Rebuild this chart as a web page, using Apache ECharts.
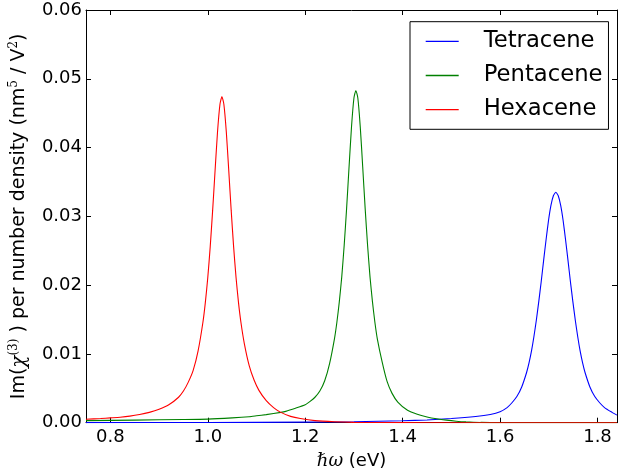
<!DOCTYPE html>
<html>
<head>
<meta charset="utf-8">
<script src="https://cdn.jsdelivr.net/npm/echarts@6/dist/echarts.min.js"></script>
<style>
html,body{margin:0;padding:0;background:#fff;}
#chart{width:618px;height:472px;}
</style>
</head>
<body>
<div id="chart"></div>
<script>
const seriesNames = ['Tetracene', 'Pentacene', 'Hexacene'];
const xTicks = [0.8, 1.0, 1.2, 1.4, 1.6, 1.8];

const tetraceneX = [0.75, 1.0, 1.2, 1.3, 1.4, 1.45, 1.5, 1.55, 1.58, 1.6, 1.6144, 1.6244, 1.6344, 1.6444, 1.6544, 1.6594, 1.6644, 1.6694, 1.6744, 1.6794, 1.6844, 1.6894, 1.6944, 1.6994, 1.7044, 1.7094, 1.7144, 1.7194, 1.7244, 1.7294, 1.7344, 1.7394, 1.7444, 1.7494, 1.7544, 1.7594, 1.7644, 1.7694, 1.7744, 1.7844, 1.7944, 1.8044, 1.8144, 1.83, 1.84];
const tetraceneY = [0.00001, 0.00003, 0.00008, 0.00014, 0.00028, 0.0004, 0.0006, 0.0009, 0.0012, 0.0016, 0.0022, 0.0029, 0.0038, 0.0052, 0.0073, 0.0087, 0.0104, 0.0125, 0.0149, 0.0176, 0.0205, 0.0236, 0.0266, 0.0294, 0.0316, 0.033, 0.0335, 0.033, 0.0316, 0.0294, 0.0266, 0.0236, 0.0205, 0.0176, 0.0149, 0.0125, 0.0104, 0.0087, 0.0073, 0.0052, 0.0038, 0.0029, 0.0022, 0.0015, 0.0011];

const pentaceneX = [0.75, 0.85, 0.95, 1.0, 1.05, 1.085, 1.1, 1.12, 1.15, 1.16, 1.18, 1.2, 1.21, 1.22, 1.23, 1.24, 1.25, 1.26, 1.265, 1.27, 1.275, 1.28, 1.285, 1.29, 1.295, 1.3, 1.304, 1.308, 1.313, 1.318, 1.323, 1.328, 1.333, 1.338, 1.343, 1.348, 1.358, 1.368, 1.378, 1.39, 1.41, 1.43, 1.45, 1.47, 1.49, 1.51, 1.53, 1.56, 1.6, 1.84];
const pentaceneY = [0.0003, 0.00038, 0.00046, 0.00052, 0.0007, 0.00087, 0.001, 0.00118, 0.0015, 0.00165, 0.0021, 0.0026, 0.0031, 0.0037, 0.0046, 0.0061, 0.0086, 0.0122, 0.0146, 0.0176, 0.0212, 0.0258, 0.0312, 0.0372, 0.043, 0.0472, 0.0483, 0.0472, 0.043, 0.0372, 0.0312, 0.0258, 0.0212, 0.0176, 0.0146, 0.0122, 0.0088, 0.006, 0.0043, 0.003, 0.0018, 0.00122, 0.00084, 0.00057, 0.00037, 0.00022, 0.00012, 0.00004, 0, 0];

const hexaceneX = [0.75, 0.78, 0.8, 0.82, 0.84, 0.86, 0.88, 0.9, 0.92, 0.94, 0.95, 0.96, 0.97, 0.98, 0.99, 0.995, 1.0, 1.005, 1.01, 1.015, 1.02, 1.025, 1.029, 1.033, 1.038, 1.043, 1.048, 1.053, 1.058, 1.063, 1.068, 1.075, 1.085, 1.095, 1.105, 1.12, 1.135, 1.15, 1.17, 1.19, 1.22, 1.26, 1.3, 1.4, 1.5, 1.84];
const hexaceneY = [0.0005, 0.0006, 0.0007, 0.0008, 0.00095, 0.00118, 0.0015, 0.00195, 0.0026, 0.0037, 0.0046, 0.0059, 0.0076, 0.0104, 0.0146, 0.0175, 0.0211, 0.0256, 0.0309, 0.0367, 0.0423, 0.0463, 0.0474, 0.0463, 0.0423, 0.0367, 0.0309, 0.0256, 0.0211, 0.0175, 0.0146, 0.0115, 0.0083, 0.0062, 0.0047, 0.0032, 0.0022, 0.0015, 0.00092, 0.0006, 0.0003, 0.00013, 0.00005, 0.00001, 0, 0];

const colors = ['#0000ff', '#008000', '#ff0000'];

function zip(xs, ys) { return xs.map((x, i) => [x, ys[i]]); }
const allData = [zip(tetraceneX, tetraceneY), zip(pentaceneX, pentaceneY), zip(hexaceneX, hexaceneY)];

const font = 'DejaVu Sans';
const chart = echarts.init(document.getElementById('chart'), null, {renderer: 'canvas'});

const tickCommon = {show: true, inside: true, length: 5, lineStyle: {color: '#000', width: 1}};

chart.setOption({
  animation: false,
  backgroundColor: '#fff',
  textStyle: {fontFamily: font},
  grid: {left: 86, right: 1, top: 10, bottom: 49.3, show: false, containLabel: false, outerBoundsMode: 'none'},
  legend: {
    data: seriesNames,
    orient: 'vertical',
    left: 410,
    top: 21.7,
    icon: 'rect',
    itemWidth: 33,
    itemHeight: 1.4,
    itemGap: 11.1,
    padding: [8.2, 6, 8.2, 15.7],
    borderColor: '#000',
    borderWidth: 1,
    borderRadius: 0,
    backgroundColor: '#fff',
    textStyle: {fontSize: 22.7, color: '#000', fontFamily: font, padding: [0, 0, 0, 20]}
  },
  xAxis: [{
    type: 'value', min: 0.75, max: 1.84, position: 'bottom',
    axisLine: {show: true, onZero: false, lineStyle: {color: '#000', width: 1}},
    axisTick: Object.assign({customValues: xTicks}, tickCommon),
    axisLabel: {customValues: xTicks, fontSize: 18, color: '#000', fontFamily: font, margin: 6,
      formatter: v => v.toFixed(1)},
    splitLine: {show: false},
    name: '{i|ℏω} (eV)',
    nameLocation: 'middle',
    nameGap: 30,
    nameTextStyle: {fontSize: 18, color: '#000', fontFamily: font,
      rich: {i: {fontSize: 18, fontStyle: 'italic', fontFamily: 'DejaVu Serif', color: '#000'}}}
  }, {
    type: 'value', min: 0.75, max: 1.84, position: 'top',
    axisLine: {show: true, onZero: false, lineStyle: {color: '#000', width: 1}},
    axisTick: Object.assign({customValues: xTicks}, tickCommon),
    axisLabel: {show: false},
    splitLine: {show: false}
  }],
  yAxis: [{
    type: 'value', min: 0, max: 0.06, interval: 0.01, position: 'left',
    axisLine: {show: true, onZero: false, lineStyle: {color: '#000', width: 1}},
    axisTick: tickCommon,
    axisLabel: {fontSize: 18, color: '#000', fontFamily: font, margin: 4,
      formatter: v => v.toFixed(2)},
    splitLine: {show: false},
    name: 'Im({i|χ}{s|(3)} ) per number density (nm{s|5} / V{s|2})',
    nameLocation: 'middle',
    nameGap: 49,
    nameTextStyle: {fontSize: 19, color: '#000', fontFamily: font, lineHeight: 23,
      rich: {
        i: {fontSize: 20, fontStyle: 'italic', fontFamily: 'DejaVu Serif', color: '#000', lineHeight: 23},
        s: {fontSize: 12, color: '#000', fontFamily: 'DejaVu Serif', lineHeight: 11, verticalAlign: 'top'}
      }}
  }, {
    type: 'value', min: 0, max: 0.06, interval: 0.01, position: 'right',
    axisLine: {show: true, onZero: false, lineStyle: {color: '#000', width: 1}},
    axisTick: tickCommon,
    axisLabel: {show: false},
    splitLine: {show: false}
  }],
  series: seriesNames.map((n, i) => ({
    name: n,
    type: 'line',
    data: allData[i],
    xAxisIndex: 0,
    yAxisIndex: 0,
    showSymbol: false,
    symbol: 'none',
    smooth: 0.2,
    color: colors[i],
    lineStyle: {color: colors[i], width: 1.1},
    z: 2 + i
  }))
});
</script>
</body>
</html>
